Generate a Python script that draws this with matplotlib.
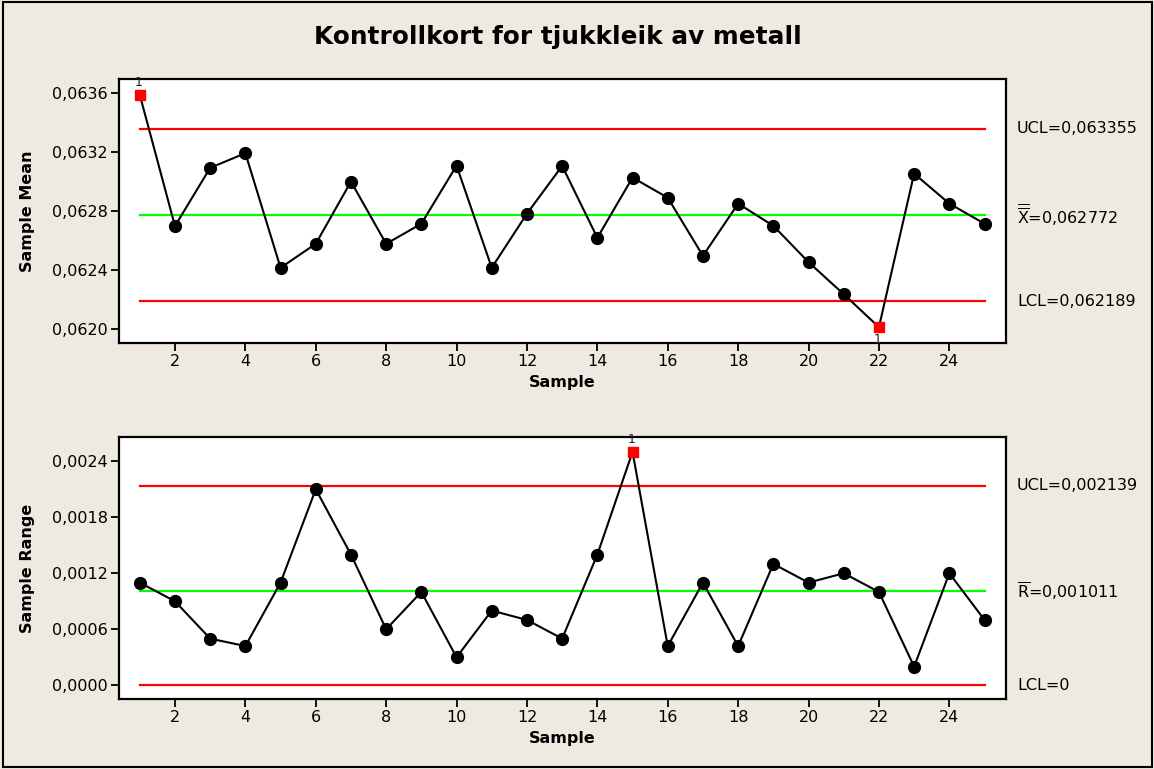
import matplotlib
matplotlib.use("Agg")
import matplotlib.pyplot as plt
import matplotlib.transforms as mtransforms
from matplotlib.patches import Rectangle
import numpy as np

plt.rcParams['font.family'] = ['DejaVu Sans']
plt.rcParams['mathtext.fontset'] = 'dejavusans'

title = "Kontrollkort for tjukkleik av metall"
samples = list(range(1, 26))
sample_means = [0.063586, 0.062698, 0.063092, 0.063191, 0.062416, 0.062578, 0.062999,
                0.062578, 0.062714, 0.063107, 0.062416, 0.062782, 0.063105, 0.062619,
                0.063026, 0.062890, 0.062497, 0.062850, 0.062700, 0.062454, 0.062237,
                0.062014, 0.063053, 0.062850, 0.062714]
sample_ranges = [0.0011, 0.0009, 0.0005, 0.00042, 0.0011, 0.0021, 0.0014, 0.0006, 0.0010,
                 0.0003, 0.0008, 0.0007, 0.0005, 0.0014, 0.0025, 0.00042, 0.0011, 0.00042,
                 0.0013, 0.0011, 0.0012, 0.0010, 0.0002, 0.0012, 0.0007]
xbar_limits = {"UCL": 0.063355, "CL": 0.062772, "LCL": 0.062189}
r_limits = {"UCL": 0.002139, "CL": 0.001011, "LCL": 0.0}
xbar_ticks = [0.0620, 0.0624, 0.0628, 0.0632, 0.0636]
r_ticks = [0.0, 0.0006, 0.0012, 0.0018, 0.0024]
x_ticks = list(range(2, 25, 2))
xbar_labels = ["UCL=0,063355", r"$\overline{\overline{\mathdefault{X}}}$=0,062772", "LCL=0,062189"]
r_labels = ["UCL=0,002139", r"$\overline{\mathdefault{R}}$=0,001011", "LCL=0"]

W, H = 1154, 769
bg = '#EEEAE1'
fig = plt.figure(figsize=(W / 100, H / 100), dpi=100, facecolor=bg)
fig.patches.append(Rectangle((3 / W, 2 / H), (1152 - 3) / W, (767 - 2) / H,
                             transform=fig.transFigure, fill=False,
                             edgecolor='black', linewidth=1.5, zorder=0))

left = 119 / W
width = (1006 - 119) / W
ax1 = fig.add_axes([left, 1 - 343 / H, width, (343 - 79) / H])
ax2 = fig.add_axes([left, 1 - 699 / H, width, (699 - 437) / H])

fig.text(558 / W, 1 - 37 / H, title, ha='center', va='center',
         fontsize=17.8, fontweight='bold')


def fmt(v, nd=4):
    return f"{v:.{nd}f}".replace('.', ',')


def draw(ax, x, y, lim, ticks, ylabel, labels, ylim):
    ax.set_facecolor('white')
    x = np.array(x)
    y = np.array(y)
    ax.plot([x[0], x[-1]], [lim["UCL"]] * 2, color='#FF0000', lw=1.6, zorder=2)
    ax.plot([x[0], x[-1]], [lim["LCL"]] * 2, color='#FF0000', lw=1.6, zorder=2)
    ax.plot([x[0], x[-1]], [lim["CL"]] * 2, color='#00FF00', lw=1.6, zorder=2)
    ax.plot(x, y, color='black', lw=1.5, zorder=3)
    out = (y > lim["UCL"]) | (y < lim["LCL"])
    ax.plot(x[~out], y[~out], 'o', color='black', ms=8.5, zorder=4)
    ax.plot(x[out], y[out], 's', color='#FF0000', ms=6.5, zorder=5, mec='#FF0000')
    for xi, yi in zip(x[out], y[out]):
        if yi > lim["UCL"]:
            ax.annotate('1', (xi, yi), xytext=(-1, 4), textcoords='offset points',
                        ha='center', va='bottom', fontsize=9, color='#222222',
                        annotation_clip=False)
        else:
            ax.annotate('1', (xi, yi), xytext=(-1, -4), textcoords='offset points',
                        ha='center', va='top', fontsize=9, color='#222222',
                        annotation_clip=False)
    ax.set_xlim(0.41, 25.61)
    ax.set_ylim(*ylim)
    ax.set_xticks(x_ticks)
    ax.set_yticks(ticks)
    ax.set_yticklabels([fmt(t) for t in ticks])
    ax.tick_params(direction='out', length=6, width=1.3, labelsize=11.5, colors='black', pad=2)
    for s in ax.spines.values():
        s.set_linewidth(1.6)
        s.set_color('black')
    ax.set_xlabel('Sample', fontsize=11.5, fontweight='bold', labelpad=4)
    ax.set_ylabel(ylabel, fontsize=11.5, fontweight='bold', labelpad=12)
    trans = mtransforms.blended_transform_factory(ax.transAxes, ax.transData)
    for key, lab in zip(["UCL", "CL", "LCL"], labels):
        ax.text(1.0124, lim[key], lab, transform=trans, ha='left', va='center',
                fontsize=11.5, clip_on=False)


draw(ax1, samples, sample_means, xbar_limits, xbar_ticks, 'Sample Mean', xbar_labels,
     (0.061907, 0.063693))
draw(ax2, samples, sample_ranges, r_limits, r_ticks, 'Sample Range', r_labels,
     (-0.000147, 0.00266))

fig.savefig('out.png', dpi=100, facecolor=bg)
